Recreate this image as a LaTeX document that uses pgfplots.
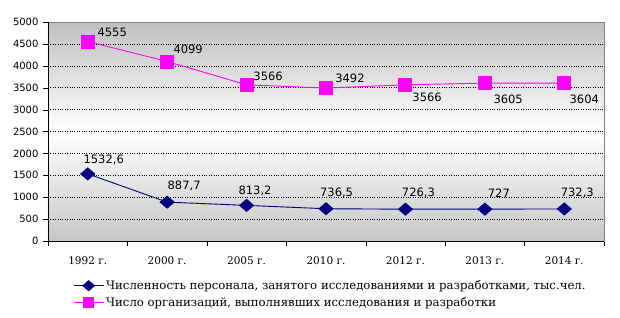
\documentclass[border=0pt]{standalone}
\usepackage{pgfplots}
\pgfplotsset{compat=1.18}
\usepackage{pgfplotstable}
\usepackage{fontspec}
\setmainfont{DejaVu Serif}
\newfontfamily\dvsans{DejaVu Sans}
\definecolor{bgray}{RGB}{192,192,192}
\definecolor{pinkc}{RGB}{255,0,255}
\definecolor{navyc}{RGB}{0,0,128}
\pgfplotstableread{
x y lab dx dy
0 4555 4555 24.5 9
1 4099 4099 21 12.5
2 3566 3566 21.5 9
3 3492 3492 24 10
4 3566 3566 21.7 -12
5 3605 3605 23.3 -16
6 3604 3604 20 -16
}\orgs
\pgfplotstableread{
x y lab dx dy
0 1532.6 1532,6 16 14
1 887.7 887,7 17 16
2 813.2 813,2 8.5 14
3 736.5 736,5 10.6 15.7
4 726.3 726,3 13 16
5 727 727 14 16
6 732.3 732,3 13 16
}\pers
\begin{document}
\begin{tikzpicture}
\begin{axis}[
  scale only axis, width=556pt, height=219pt,
  xmin=-0.5, xmax=6.5, ymin=0, ymax=5000,
  xtick={0,...,6},
  xticklabels={1992 г.,2000 г.,2005 г.,2010 г.,2012 г.,2013 г.,2014 г.},
  minor xtick={-0.5,0.5,...,6.5},
  ytick={0,500,...,5000},
  major x tick style={draw=none},
  minor x tick style={black},
  y tick style={black},
  major tick length=5pt, minor tick length=5pt,
  tick align=outside, xtick pos=bottom, ytick pos=left,
  xticklabel style={font=\fontsize{10.5}{12}\selectfont, yshift=-7pt},
  yticklabel style={font=\dvsans\fontsize{10}{12}\selectfont, xshift=-1pt},
  /pgf/number format/assume math mode=true,
  scaled y ticks=false, yticklabel={\pgfmathprintnumber[1000 sep={}]{\tick}},
  ymajorgrids, major grid style={black, dotted, line width=0.6pt},
  axis line style={draw=gray},
  axis background/.style={top color=bgray, bottom color=bgray!90!white, middle color=white},
  legend cell align=left,
  legend style={draw=none, fill=none, at={(axis description cs:0.045,-0.17)}, anchor=north west,
    font=\fontsize{11.7}{13}\selectfont, row sep=2.5pt, inner sep=0pt},
  legend image code/.code={\draw[mark repeat=2,mark phase=2] plot coordinates {(0pt,0pt) (15pt,0pt) (30pt,0pt)};},
  point meta=explicit symbolic,
  visualization depends on={\thisrow{dx}\as\dx},
  visualization depends on={\thisrow{dy}\as\dy},
  nodes near coords,
  every node near coord/.append style={font=\dvsans\fontsize{11.5}{13}\selectfont, anchor=center, xshift=\dx pt, yshift=\dy pt, text=black, inner sep=0pt},
]
\addplot[navyc, line width=0.9pt, mark=diamond*, mark size=6pt, mark options={xscale=1.55, fill=navyc, draw=navyc},
  legend image post style={mark size=5pt}] table[x=x, y=y, meta=lab] {\pers};
\addlegendentry{Численность персонала, занятого исследованиями и разработками, тыс.чел.}
\addplot[pinkc, line width=0.9pt, mark=square*, mark size=6.5pt, mark options={fill=pinkc, draw=pinkc},
  legend image post style={mark size=5pt}] table[x=x, y=y, meta=lab] {\orgs};
\addlegendentry{Число организаций, выполнявших исследования и разработки}
\draw[black, line width=0.8pt] (rel axis cs:0,1) -- (rel axis cs:0,0) -- (rel axis cs:1,0);
\end{axis}
\pgfresetboundingbox
\path[use as bounding box] (-48pt,-76pt) rectangle (572pt,241pt);
\end{tikzpicture}
\end{document}
